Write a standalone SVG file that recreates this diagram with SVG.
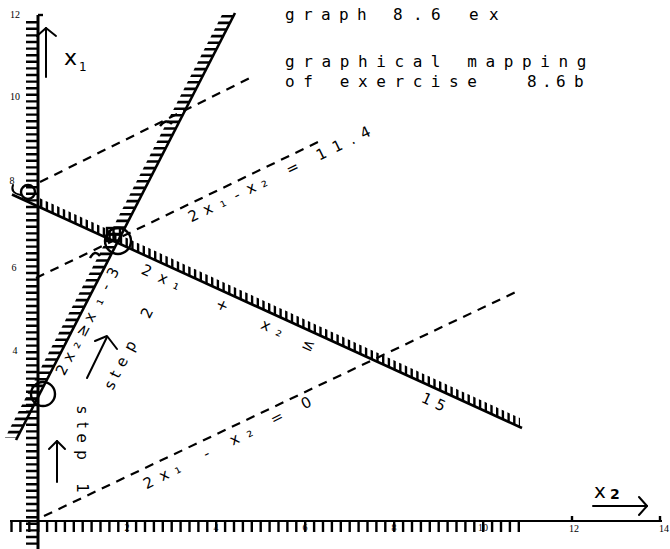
<svg xmlns="http://www.w3.org/2000/svg" width="670" height="549" viewBox="0 0 670 549">
<style>
.ln{fill:none;stroke:#000;stroke-width:2.4}
.dash{fill:none;stroke:#000;stroke-width:2.2;stroke-dasharray:9 7}
.ttl{font-family:"DejaVu Sans Mono","Liberation Mono",monospace;font-size:16px;fill:#000}
.lbl{font-family:"DejaVu Sans","Liberation Sans",sans-serif;font-size:15px;fill:#000;text-anchor:middle;dominant-baseline:central}
.num{font-family:"Liberation Serif",serif;font-size:10px;fill:#000;text-anchor:middle}
.arr{fill:none;stroke:#000;stroke-width:2;stroke-linecap:round;stroke-linejoin:round}
.ax{font-family:"DejaVu Sans","Liberation Sans",sans-serif;fill:#000}
</style>
<rect width="670" height="549" fill="#fff"/>

<g id="title">
<text class="ttl" x="285 303 321 339 357 375 393 413 431 450 469 489" y="20">graph 8.6 ex</text>
<text class="ttl" x="285" y="67" letter-spacing="8.6">graphical mapping</text>
<text class="ttl" x="285" y="87" letter-spacing="8.6">of exercise</text>
<text class="ttl" x="527 542 556 566 574" y="87">8.6 b</text>
</g>

<g id="axis-x1">
<line x1="38" y1="15" x2="38" y2="549" stroke="#000" stroke-width="3"/>
<line x1="32" y1="21" x2="32" y2="549" stroke="#000" stroke-width="12" stroke-dasharray="2.4 4.2"/>
<path class="ln" d="M38 15h5"/>
<line class="arr" x1="46" y1="77" x2="46" y2="28"/>
<polyline class="arr" points="37,36 46,28 56,36"/>
<text class="ax" x="64" y="65" font-size="22">x</text>
<text class="ax" x="79" y="71" font-size="12">1</text>
<text class="num" x="15" y="18">12</text>
<text class="num" x="15" y="100">10</text>
<text class="num" x="12" y="184">8</text>
<text class="num" x="14" y="271" font-size="8">6</text>
<text class="num" x="15" y="354" font-size="8">4</text>
<path class="arr" d="M13 185q-3 8 8 10" stroke-width="1.5"/>
</g>

<g id="axis-x2">
<line x1="10" y1="521" x2="662" y2="521" stroke="#000" stroke-width="2"/>
<line x1="10.3" y1="526.5" x2="521" y2="526.5" stroke="#000" stroke-width="11" stroke-dasharray="2.4 6.5"/>
<path class="ln" d="M572 516v5M660 516v5" stroke-width="1.5"/>
<text class="num" x="127" y="531">2</text>
<text class="num" x="216" y="531">4</text>
<text class="num" x="305" y="531">6</text>
<text class="num" x="394" y="531">8</text>
<text class="num" x="483" y="531">10</text>
<text class="num" x="574" y="532">12</text>
<text class="num" x="664" y="532">14</text>
<line class="arr" x1="593" y1="506" x2="647" y2="506"/>
<polyline class="arr" points="639,497 647,506 639,515"/>
<text class="ax" x="594" y="498" font-size="20">x</text>
<text class="ax" x="610" y="499" font-size="14" font-weight="bold">2</text>
</g>

<g id="constraint-steep">
<line x1="16" y1="440" x2="235" y2="13" stroke="#000" stroke-width="2.6"/>
<g transform="translate(118,241) skewX(-27.15)">
<line x1="-6" y1="-226" x2="-6" y2="197" stroke="#000" stroke-width="12" stroke-dasharray="2.6 4"/>
</g>
<text class="lbl" transform="translate(62,370) rotate(-62.3)" x="0 15 29 45 60 78 94 110" y="0">2x₂≥x₁-3</text>
</g>

<g id="constraint-descending">
<line x1="12" y1="194.5" x2="522" y2="428" stroke="#000" stroke-width="2.6"/>
<g transform="translate(118,243) skewY(24.6)">
<line x1="-78" y1="-4.5" x2="402" y2="-4.5" stroke="#000" stroke-width="9" stroke-dasharray="2.4 3.3"/>
</g>
<text class="lbl" transform="translate(148,268) rotate(24.6)" x="0 18 33 83 131 146 178 308 323" y="3">2x₁+x₂≤15</text>
</g>

<g id="connectors">
<path class="dash" d="M40 182L250 78"/>
<path class="dash" d="M36 278L318 142"/>
<path class="dash" d="M44 516L520 290"/>
<text class="lbl" transform="translate(193,215) rotate(-25.8)" x="0 16 32 48 64 78 110 142 160 176 191" y="1">2x₁-x₂=11.4</text>
<text class="lbl" transform="translate(148,482) rotate(-26.9)" x="0 17.5 32 65 96.5 112.6 144 177" y="1">2x₁-x₂=0</text>
</g>

<g id="markers">
<circle class="ln" cx="118" cy="241" r="13" stroke-width="2"/>
<rect class="ln" x="107" y="228" width="13" height="13" stroke-width="2"/>
<path class="ln" d="M107 234.5h13M113.5 228v13" stroke-width="1.5"/>
<circle class="ln" cx="43" cy="394" r="12" stroke-width="2"/>
<circle class="ln" cx="28" cy="192" r="7" stroke-width="2"/>
<path class="ln" d="M160 126q6-8 12-2M90 258q5-9 10-2" stroke-width="2"/>
</g>

<g id="steps">
<line class="arr" x1="87" y1="378" x2="107" y2="337"/>
<polyline class="arr" points="95,341 107,336 117,349"/>
<text class="lbl" transform="translate(110,385) rotate(-62.8)" x="0 12 26 44 62 81" y="0">step 2</text>
<line class="arr" x1="57" y1="482" x2="57" y2="441"/>
<polyline class="arr" points="49,449 57,441 65,449"/>
<text class="lbl" transform="translate(82,410) rotate(90)" x="0 15 28 45 62 78" y="0">step 1</text>
</g>
</svg>
